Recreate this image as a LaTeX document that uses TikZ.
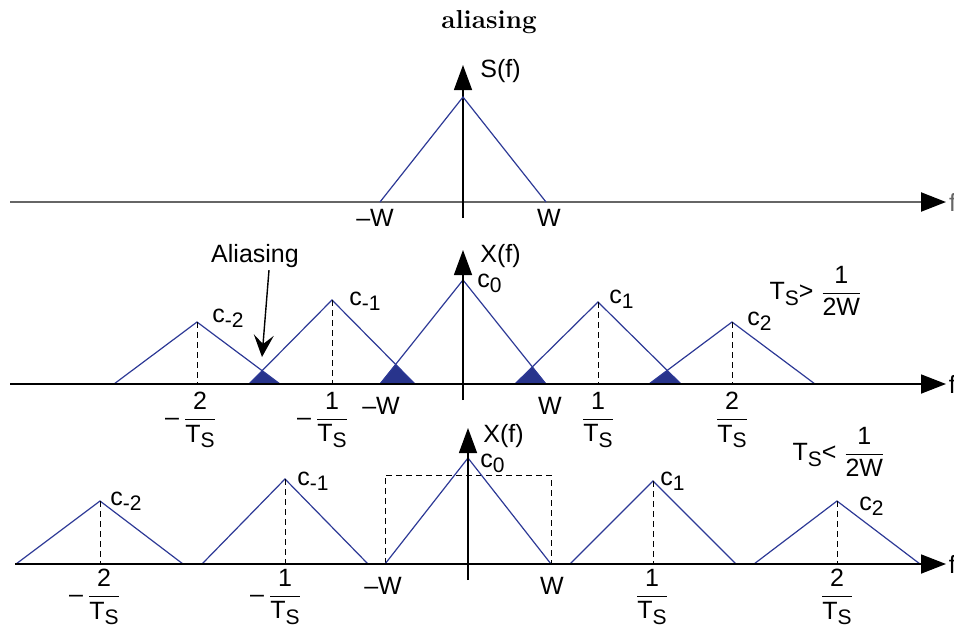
\documentclass[tikz,border=0pt]{standalone}
\usepackage{amsmath}
\usepackage{mathtools}
\usepackage{fontspec}
\setsansfont{Liberation Sans}
\usetikzlibrary{calc, positioning}
\usetikzlibrary{arrows.meta}

\definecolor{sigblue}{RGB}{45,57,150}
\definecolor{aliasblue}{RGB}{40,52,140}
\newcommand{\sbs}[1]{\raisebox{-0.45ex}{\fontsize{10.5}{12}\selectfont #1}}

\tikzset{
  sig/.style={sigblue, line width=0.6pt},
  alias/.style={fill=aliasblue},
  guide/.style={line width=0.5pt, dash pattern=on 3pt off 2pt},
  axis/.style={line width=0.9pt, -{Triangle[length=12.5pt, width=9.5pt, color=black]}},
  yaxis/.style={line width=0.7pt, -{Triangle[length=12.5pt, width=9pt]}},
  lbl/.style={font=\sffamily\fontsize{12.5}{14}\selectfont, inner sep=1pt},
  ttl/.style={font=\bfseries\fontsize{13}{15}\selectfont, inner sep=1pt},
}

\begin{document}
\begin{tikzpicture}[x=0.5pt, y=-0.5pt]
\useasboundingbox (0,0) rectangle (954,628);
\def\W{83}

\node[ttl] (title) at (489,22) {aliasing};

% S(f)
\draw[axis, black!60, line width=1.1pt] (10,202) -- (946,202) node[lbl, right] (fa) {f};
\draw[yaxis] (463,218) -- (463,65);
\draw[sig] (380,202) -- (463,97) -- (546,202);
\node[lbl, anchor=west] (sf) at (478,71) {S(f)};
\node[lbl] (mwa) at (375,218) {\textendash W};
\node[lbl] (pwa) at (549,218) {W};

% X(f), T_s > 1/2W
\coordinate (Tm2) at (197,322); \coordinate (Lm2) at (114,384); \coordinate (Rm2) at (280,384);
\coordinate (Tm1) at (332,300); \coordinate (Lm1) at (249,384); \coordinate (Rm1) at (415,384);
\coordinate (T0)  at (463,280); \coordinate (L0)  at (380,384); \coordinate (R0)  at (546,384);
\coordinate (Tp1) at (598,302); \coordinate (Lp1) at (515,384); \coordinate (Rp1) at (681,384);
\coordinate (Tp2) at (732,322); \coordinate (Lp2) at (649,384); \coordinate (Rp2) at (815,384);

\fill[alias] (Lm1) -- (intersection of Tm2--Rm2 and Lm1--Tm1) -- (Rm2) -- cycle;
\fill[alias] (L0) -- (intersection of Tm1--Rm1 and L0--T0) -- (Rm1) -- cycle;
\fill[alias] (Lp1) -- (intersection of T0--R0 and Lp1--Tp1) -- (R0) -- cycle;
\fill[alias] (Lp2) -- (intersection of Tp1--Rp1 and Lp2--Tp2) -- (Rp1) -- cycle;

\draw[sig] (Lm2) -- (Tm2) -- (Rm2);
\draw[sig] (Lm1) -- (Tm1) -- (Rm1);
\draw[sig] (L0) -- (T0) -- (R0);
\draw[sig] (Lp1) -- (Tp1) -- (Rp1);
\draw[sig] (Lp2) -- (Tp2) -- (Rp2);
\draw[guide] (Tm2) -- (Tm2 |- Lm2);
\draw[guide] (Tm1) -- (Tm1 |- Lm1);
\draw[guide] (Tp1) -- (Tp1 |- Lp1);
\draw[guide] (Tp2) -- (Tp2 |- Lp2);

\draw[axis] (10,384) -- (946,384) node[lbl, right] (fb) {f};
\draw[yaxis] (463,400) -- (463,250);
\node[lbl, anchor=west] (xfb) at (478,256) {X(f)};

\node[lbl, anchor=base west] (cm2b) at (210,322) {c\sbs{-2}};
\node[lbl, anchor=base west] (cm1b) at (347,305) {c\sbs{-1}};
\node[lbl, anchor=base west] (c0b)  at (475,287) {c\sbs{0}};
\node[lbl, anchor=base west] (cp1b) at (607,303) {c\sbs{1}};
\node[lbl, anchor=base west] (cp2b) at (745,325) {c\sbs{2}};

\node[lbl] (tm2b) at (200,420) {$\mathllap{\text{\textendash}\,}\dfrac{\text{2}}{\text{T\sbs{S}}}$};
\node[lbl] (tm1b) at (332,420) {$\mathllap{\text{\textendash}\,}\dfrac{\text{1}}{\text{T\sbs{S}}}$};
\node[lbl] (mwb) at (381,406) {\textendash W};
\node[lbl] (pwb) at (550,406) {W};
\node[lbl] (tp1b) at (598,420) {$\dfrac{\text{1}}{\text{T\sbs{S}}}$};
\node[lbl] (tp2b) at (732,420) {$\dfrac{\text{2}}{\text{T\sbs{S}}}$};
\node[lbl] (condhi) at (816,291) {$\text{T\sbs{S}>}\;\dfrac{\text{1}}{\text{2W}}$};

\node[lbl] (alias) at (255,256) {Aliasing};
\coordinate (atip) at (262,357);
\draw[line width=0.7pt, -{Stealth[length=11pt, width=10pt, inset=4.5pt]}] ([xshift=7pt]alias.south) -- (atip);

% X(f), T_s < 1/2W
\draw[guide] (385,564) -- (385,475) -- (551,475) -- (551,564);
\draw[sig] (16,564) -- (100,501) -- (183,564);
\draw[sig] (202,564) -- (285,479) -- (368,564);
\draw[sig] (385,564) -- (468,458) -- (551,564);
\draw[sig] (570,564) -- (653,481) -- (736,564);
\draw[sig] (754,564) -- (837,501) -- (920,564);
\draw[guide] (100,501) -- (100,564);
\draw[guide] (285,479) -- (285,564);
\draw[guide] (653,481) -- (653,564);
\draw[guide] (837,501) -- (837,564);

\draw[axis] (15,564) -- (946,564) node[lbl, right] (fc) {f};
\draw[yaxis] (468,580) -- (468,428);
\node[lbl, anchor=west] (xfc) at (481,436) {X(f)};

\node[lbl, anchor=base west] (cm2c) at (108,505) {c\sbs{-2}};
\node[lbl, anchor=base west] (cm1c) at (295,485) {c\sbs{-1}};
\node[lbl, anchor=base west] (c0c)  at (478,467) {c\sbs{0}};
\node[lbl, anchor=base west] (cp1c) at (658,485) {c\sbs{1}};
\node[lbl, anchor=base west] (cp2c) at (857,510) {c\sbs{2}};

\node[lbl] (tm2c) at (104,597) {$\mathllap{\text{\textendash}\,}\dfrac{\text{2}}{\text{T\sbs{S}}}$};
\node[lbl] (tm1c) at (285,597) {$\mathllap{\text{\textendash}\,}\dfrac{\text{1}}{\text{T\sbs{S}}}$};
\node[lbl] (mwc) at (383,586) {\textendash W};
\node[lbl] (pwc) at (552,586) {W};
\node[lbl] (tp1c) at (652,597) {$\dfrac{\text{1}}{\text{T\sbs{S}}}$};
\node[lbl] (tp2c) at (837,597) {$\dfrac{\text{2}}{\text{T\sbs{S}}}$};
\node[lbl] (condlo) at (839,452) {$\text{T\sbs{S}<}\;\dfrac{\text{1}}{\text{2W}}$};
\end{tikzpicture}
\end{document}
